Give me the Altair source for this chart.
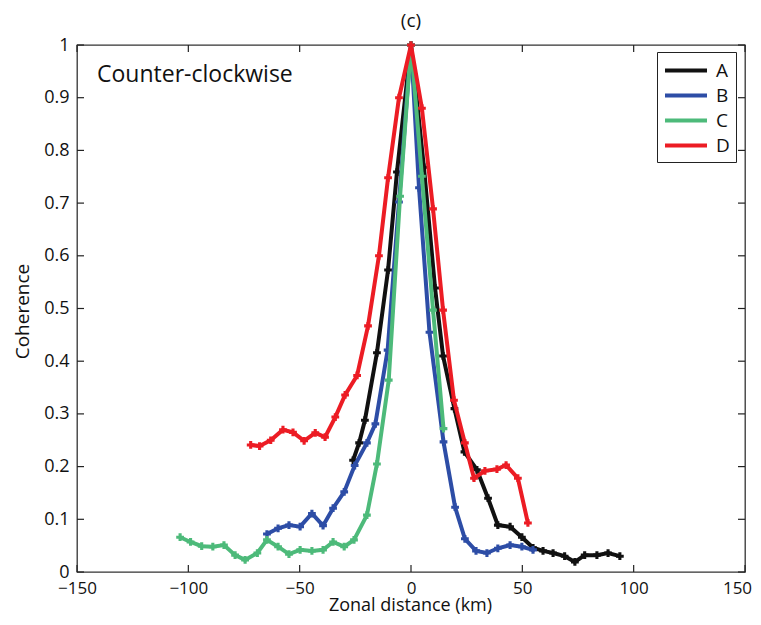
import altair as alt
import pandas as pd

# ---- data ----
series = ["A", "B", "C", "D"]
colors = ["#111111", "#2D4DA6", "#4DBA7A", "#EC1C24"]

a_x = [-26, -23.3, -20.7, -15.3, -10.3, -6.3, 0, 5.8, 10.8, 14.4, 19.5, 24, 29.6, 34.6, 39,
       44.5, 49.8, 54.8, 59.3, 63.8, 69, 73.6, 78, 83.5, 88.5, 93.8]
a_y = [0.212, 0.245, 0.288, 0.416, 0.573, 0.759, 1.0, 0.768, 0.539, 0.41, 0.31, 0.228, 0.194,
       0.14, 0.089, 0.086, 0.066, 0.046, 0.04, 0.036, 0.030, 0.019, 0.032, 0.032, 0.036, 0.03]

b_x = [-64.7, -59.7, -54.8, -49.8, -44.5, -39.5, -35, -30, -25.3, -19.8, -16, -10.5, -5.4, 0,
       3.6, 8.3, 14.6, 19.8, 24.2, 29.2, 34.1, 39, 44.5, 49.8, 54.8]
b_y = [0.072, 0.083, 0.089, 0.086, 0.111, 0.088, 0.121, 0.152, 0.202, 0.245, 0.281, 0.421, 0.702,
       1.0, 0.729, 0.455, 0.247, 0.123, 0.063, 0.040, 0.036, 0.045, 0.051, 0.048, 0.042]

c_x = [-103.7, -99, -94, -89, -84, -79, -74.5, -69, -64.7, -59.7, -54.8, -49.8, -44.5, -39.5,
       -35, -30, -25.6, -19.8, -15.3, -10, -4.9, 0, 4.9, 9.9, 14.6]
c_y = [0.066, 0.057, 0.049, 0.048, 0.051, 0.032, 0.023, 0.036, 0.061, 0.048, 0.034, 0.042, 0.040,
       0.042, 0.057, 0.048, 0.061, 0.108, 0.205, 0.364, 0.713, 1.0, 0.751, 0.497, 0.272]

d_x = [-72, -68, -63, -57.5, -53, -48, -43, -38.6, -34, -29.6, -24.2, -19.3, -14.4, -10.3, -5.4,
       0, 4.9, 9.9, 14.4, 19.3, 24.2, 28.3, 33.2, 38.6, 42.7, 48, 52.5]
d_y = [0.241, 0.239, 0.25, 0.27, 0.265, 0.249, 0.264, 0.256, 0.294, 0.336, 0.373, 0.467, 0.60,
       0.748, 0.90, 1.0, 0.88, 0.689, 0.497, 0.326, 0.245, 0.178, 0.192, 0.195, 0.203, 0.178, 0.093]

x_ticks = [-150, -100, -50, 0, 50, 100, 150]
y_ticks = [0, 0.1, 0.2, 0.3, 0.4, 0.5, 0.6, 0.7, 0.8, 0.9, 1.0]

title_text = "(c)"
annot_text = "Counter-clockwise"
x_title = "Zonal distance (km)"
y_title = "Coherence"

FONT = "Open Sans"
W, H = 668, 527

# ---- build table ----
rows = []
for name, xs, ys in zip(series, [a_x, b_x, c_x, d_x], [a_y, b_y, c_y, d_y]):
    for i, (xv, yv) in enumerate(zip(xs, ys)):
        rows.append({"s": name, "x": xv, "y": yv, "i": i})
df = pd.DataFrame(rows)

xscale = alt.Scale(domain=[-150, 150], nice=False, zero=False)
yscale = alt.Scale(domain=[0, 1], nice=False)
cscale = alt.Scale(domain=series, range=colors)

xenc = alt.X("x:Q", scale=xscale,
             axis=alt.Axis(values=x_ticks, title=x_title, titleX=333, titleY=33,
                           titleBaseline="middle", titleAlign="center", titleFontSize=18,
                           labelFlush=False, labelPadding=8, labelFontSize=17,
                           labelOffset=alt.condition("datum.value == 150",
                                                     alt.value(-8), alt.value(0))))
yenc = alt.Y("y:Q", scale=yscale,
             axis=alt.Axis(values=y_ticks, format=".1~f", title=y_title, titleX=-55,
                           titleY=266, titleAngle=-90, titleBaseline="middle",
                           titleAlign="center", labelFlush=False))

layers = []
for k in series:
    base = alt.Chart(df).transform_filter(alt.datum.s == k)
    layers.append(
        base.mark_line(strokeWidth=4).encode(
            x=xenc, y=yenc, order="i:Q",
            color=alt.Color("s:N", scale=cscale,
                            legend=alt.Legend(title=None, symbolType="M-1,0H3",
                                              symbolSize=441, symbolStrokeWidth=4,
                                              orient="none", legendX=580, legendY=7)))
    )
    layers.append(
        base.mark_point(shape="cross", filled=True, size=60, opacity=1).encode(
            x=xenc, y=yenc, color=alt.Color("s:N", scale=cscale, legend=None))
    )

# inward tick marks on all four sides
xt = pd.DataFrame({"t": x_ticks})
yt = pd.DataFrame({"t": y_ticks})
tick_len = 7
xtick_bot = alt.Chart(xt).mark_rule(color="#222", strokeWidth=1.2).encode(
    x=alt.X("t:Q", scale=xscale), y=alt.value(H), y2=alt.value(H - tick_len))
xtick_top = alt.Chart(xt).mark_rule(color="#222", strokeWidth=1.2).encode(
    x=alt.X("t:Q", scale=xscale), y=alt.value(0), y2=alt.value(tick_len))
ytick_l = alt.Chart(yt).mark_rule(color="#222", strokeWidth=1.2).encode(
    y=alt.Y("t:Q", scale=yscale), x=alt.value(0), x2=alt.value(tick_len))
ytick_r = alt.Chart(yt).mark_rule(color="#222", strokeWidth=1.2).encode(
    y=alt.Y("t:Q", scale=yscale), x=alt.value(W), x2=alt.value(W - tick_len))

annot = alt.Chart(pd.DataFrame({"x": [-141], "y": [0.943], "t": [annot_text]})).mark_text(
    align="left", baseline="middle", font=FONT, fontSize=23, color="#111").encode(
    x=alt.X("x:Q", scale=xscale), y=alt.Y("y:Q", scale=yscale), text="t:N")

chart = alt.layer(xtick_bot, xtick_top, ytick_l, ytick_r, *layers, annot).properties(
    width=W, height=H,
    title=alt.TitleParams(title_text, fontSize=19, font=FONT, fontWeight="normal",
                          offset=5, color="#111"),
    autosize=alt.AutoSizeParams(type="none"),
    padding={"left": 69, "top": 37, "right": 8, "bottom": 45},
).configure_view(stroke="#333", strokeWidth=1.3).configure_axis(
    grid=False, ticks=False, domain=False, labelFont=FONT, labelFontSize=18,
    labelColor="#111", labelPadding=8, titleFont=FONT, titleFontSize=19,
    titleFontWeight="normal", titleColor="#111"
).configure_legend(
    strokeColor="#222", fillColor="white", padding=6, labelFont=FONT, labelFontSize=19,
    labelColor="#111", rowPadding=2, labelOffset=28
)

chart.save("out.html", embed_options={"renderer": "svg", "actions": False})
